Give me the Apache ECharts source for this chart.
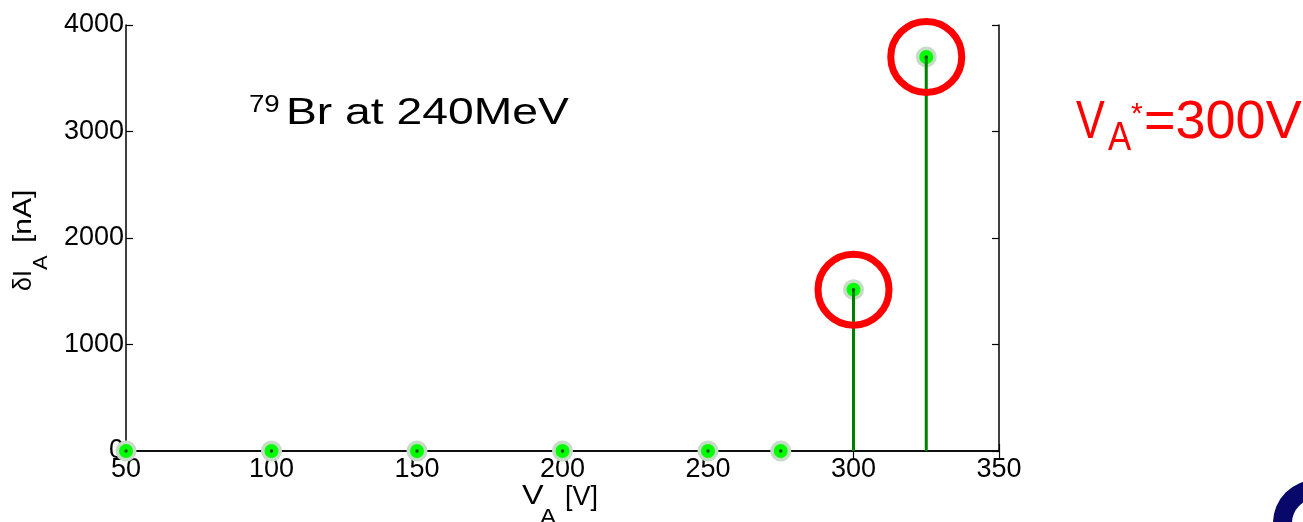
<!DOCTYPE html>
<html>
<head>
<meta charset="utf-8">
<title>δI_A vs V_A</title>
<script src="https://cdn.jsdelivr.net/npm/echarts@6/dist/echarts.min.js"></script>
<style>
  html, body { margin: 0; padding: 0; background: #ffffff; }
  #chart { width: 1303px; height: 522px; }
</style>
</head>
<body>
<div id="chart"></div>
<script>
// Anode voltage steps [V] and measured current change [nA]
const voltages = [50, 100, 150, 200, 250, 275, 300, 325];
const currents = [0, 0, 0, 0, 0, 0, 1515, 3700];
// Points ringed in red
const circledVoltages = [300, 325];
// Axis scales
const xTicks = { min: 50, max: 350, step: 50 };
const yTicks = { min: 0, max: 4000, step: 1000 };
const annotationText = 'Br at 240MeV';
const isotopeMass = '79';
const thresholdVoltage = 300;

const FONT = '"Liberation Sans", Arial, sans-serif';
const points = voltages.map((v, i) => [v, currents[i]]);
const circled = points.filter(p => circledVoltages.indexOf(p[0]) >= 0);

const chart = echarts.init(document.getElementById('chart'), null, { renderer: 'canvas' });

const axisLine = { show: true, lineStyle: { color: '#000000', width: 1.5 } };
const axisTick = { show: true, inside: true, length: 7, lineStyle: { color: '#000000', width: 1.2 } };
const tickLabel = { color: '#000000', fontFamily: FONT, fontSize: 27, formatter: v => String(v) };

function xAxisDef(pos, labels) {
  return {
    type: 'value', position: pos, min: xTicks.min, max: xTicks.max, interval: xTicks.step,
    axisLine, axisTick, splitLine: { show: false },
    axisLabel: Object.assign({ show: labels, margin: 5 }, tickLabel)
  };
}
function yAxisDef(pos, labels) {
  return {
    type: 'value', position: pos, min: yTicks.min, max: yTicks.max, interval: yTicks.step,
    axisLine, axisTick, splitLine: { show: false },
    axisLabel: Object.assign({ show: labels, margin: 2 }, tickLabel)
  };
}

// Text helper: left aligned, vertically centred on y
function txt(x, y, text, size, color, sx, extra) {
  return Object.assign({
    type: 'text', x, y, scaleX: sx || 1, z: 100,
    style: { text, fill: color || '#000000', font: size + 'px ' + FONT, align: 'left', verticalAlign: 'middle' }
  }, extra || {});
}

const option = {
  backgroundColor: '#ffffff',
  animation: false,
  grid: { left: 126, right: 304, top: 25, bottom: 71, containLabel: false },
  xAxis: [xAxisDef('bottom', true), xAxisDef('top', false)],
  yAxis: [yAxisDef('left', true), yAxisDef('right', false)],
  series: [
    { // soft halo round each marker
      type: 'scatter', data: points, symbol: 'circle', symbolSize: 21, clip: false, silent: true,
      itemStyle: { color: '#c6dcc6', opacity: 1 }, z: 2
    },
    { // green marker face
      type: 'scatter', data: points, symbol: 'circle', symbolSize: 14, clip: false, silent: true,
      itemStyle: { color: '#00ff00', opacity: 1 }, z: 3
    },
    { // stems from the baseline up to each value
      type: 'custom', data: points, clip: false, z: 4, silent: true,
      renderItem: function (params, api) {
        const top = api.coord([api.value(0), api.value(1)]);
        const base = api.coord([api.value(0), 0]);
        return {
          type: 'line',
          shape: { x1: base[0], y1: base[1], x2: top[0], y2: top[1] },
          style: { stroke: '#008000', lineWidth: 3 }
        };
      }
    },
    { // dark centre dot
      type: 'scatter', data: points, symbol: 'circle', symbolSize: 3.5, clip: false, silent: true,
      itemStyle: { color: '#005000', opacity: 1 }, z: 5
    },
    { // red rings round the highlighted points
      type: 'scatter', data: circled, symbol: 'circle', symbolSize: 71, clip: false, silent: true,
      itemStyle: { color: 'rgba(0,0,0,0)', borderColor: '#ff0000', borderWidth: 7, opacity: 1 }, z: 6
    }
  ],
  graphic: [
    // annotation inside the plot
    txt(249, 106, isotopeMass, 23, '#000000', 1.2),
    txt(286, 114, annotationText, 37, '#000000', 1.25),
    // x axis title
    txt(522, 497, 'V', 27, '#000000', 1.2),
    txt(540, 518, 'A', 22, '#000000', 1.1),
    txt(565, 498, '[V]', 27, '#000000', 1.0),
    // y axis title, reading upwards
    {
      type: 'group', x: 24, y: 291, rotation: Math.PI / 2,
      children: [
        txt(0, 0, 'δI', 25, '#000000', 1.0),
        txt(21, 17, 'A', 20, '#000000', 1.1),
        txt(48, 0, '[nA]', 25, '#000000', 1.2)
      ]
    },
    // threshold voltage note
    txt(1076, 123, 'V', 54, '#ff0000', 0.8),
    txt(1108, 139, 'A', 41, '#ff0000', 0.85),
    txt(1131, 115, '*', 30, '#ff0000', 1.0),
    txt(1144, 123, '=' + thresholdVoltage + 'V', 54, '#ff0000', 1.0),
    // corner logo fragment
    {
      type: 'ring', z: 100,
      shape: { cx: 1316, cy: 523, r: 43, r0: 24 },
      style: { fill: '#08086a' }
    }
  ]
};

chart.setOption(option);
</script>
</body>
</html>
